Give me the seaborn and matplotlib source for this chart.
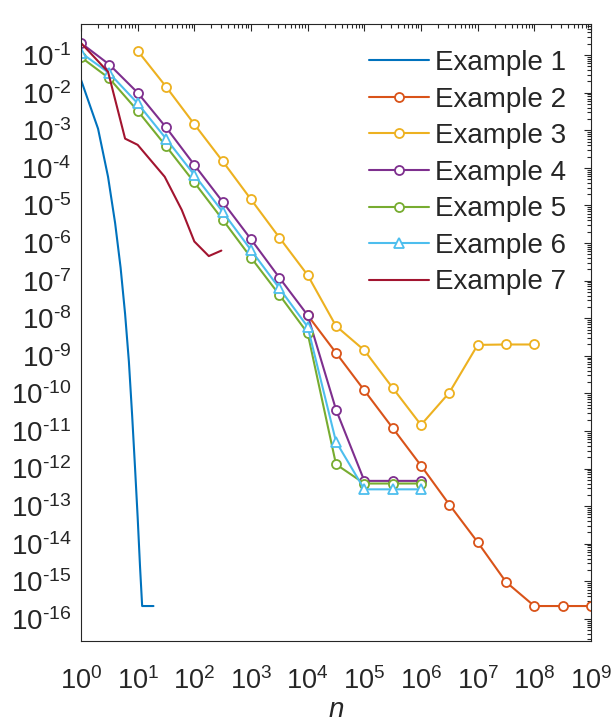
import numpy as np
import pandas as pd
import matplotlib
matplotlib.use("Agg")
import matplotlib.pyplot as plt
import matplotlib.ticker as mticker
import seaborn as sns

# ---------------- data ----------------
half_dec = [10 ** (k / 2) for k in range(0, 19)]  # 1, 3.16, 10, ... 1e9

ex1_x = list(range(1, 20))
ex1_y = [2.2e-2, 1.1e-3, 5.8e-5, 3.4e-6, 2.2e-7, 1.3e-8, 7.0e-10, 2.5e-11,
         1.0e-12, 5.0e-14, 2.5e-15, 2.2e-16, 2.2e-16, 2.2e-16, 2.2e-16,
         2.2e-16, 2.2e-16, 2.2e-16, 2.2e-16]

ex2_x = half_dec[8:19]
ex2_y = [1.2e-8, 1.2e-9, 1.2e-10, 1.2e-11, 1.2e-12, 1.1e-13, 1.1e-14,
         9.6e-16, 2.2e-16, 2.2e-16, 2.2e-16]

ex3_x = half_dec[2:17]
ex3_y = [0.13, 1.45e-2, 1.45e-3, 1.5e-4, 1.45e-5, 1.4e-6, 1.4e-7, 6.2e-9,
         1.4e-9, 1.4e-10, 1.45e-11, 1.05e-10, 1.95e-9, 2.0e-9, 2.0e-9]

ex4_x = half_dec[0:13]
ex4_y = [0.21, 5.6e-2, 1.0e-2, 1.2e-3, 1.2e-4, 1.25e-5, 1.26e-6, 1.2e-7,
         1.2e-8, 3.7e-11, 4.7e-13, 4.7e-13, 4.7e-13]

ex5_x = half_dec[0:13]
ex5_y = [8.8e-2, 2.4e-2, 3.3e-3, 3.8e-4, 4.1e-5, 4.2e-6, 4.1e-7, 4.2e-8,
         4.0e-9, 1.3e-12, 4.0e-13, 4.0e-13, 4.0e-13]

ex6_x = half_dec[0:13]
ex6_y = [0.115, 3.3e-2, 5.2e-3, 6.0e-4, 6.5e-5, 6.8e-6, 6.5e-7, 6.3e-8,
         5.9e-9, 5.2e-12, 2.8e-13, 2.8e-13, 2.8e-13]

ex7_x = [1, 3, 6, 10, 30, 60, 100, 180, 300]
ex7_y = [0.21, 3.6e-2, 6.0e-4, 4.1e-4, 5.8e-5, 7.6e-6, 1.1e-6, 4.5e-7, 6.3e-7]

labels = ["Example 1", "Example 2", "Example 3", "Example 4",
          "Example 5", "Example 6", "Example 7"]
colors = ["#0072BD", "#D95319", "#EDB120", "#7E2F8E", "#77AC30",
          "#4DBEEE", "#A2142F"]
markers = [None, "o", "o", "o", "o", "^", None]

x_exps = list(range(0, 10))
y_exps = list(range(-16, 0))

series = [(ex1_x, ex1_y), (ex2_x, ex2_y), (ex3_x, ex3_y), (ex4_x, ex4_y),
          (ex5_x, ex5_y), (ex6_x, ex6_y), (ex7_x, ex7_y)]

# ---------------- style ----------------
sns.set_style("white")
plt.rcParams["font.family"] = ["Liberation Sans", "DejaVu Sans"]
plt.rcParams["mathtext.fontset"] = "custom"
plt.rcParams["mathtext.rm"] = "Liberation Sans"
plt.rcParams["mathtext.it"] = "Liberation Sans:italic"
plt.rcParams["mathtext.default"] = "regular"

fig = plt.figure(figsize=(6.14, 7.25), dpi=100)
ax = fig.add_axes([81 / 614, 1 - 640.7 / 725, (591 - 81) / 614, (640.7 - 24.3) / 725])

for (xs, ys), lab, col, mk in zip(series, labels, colors, markers):
    df = pd.DataFrame({"n": xs, "err": ys})
    kw = dict(color=col, linewidth=1.5, label=lab)
    if mk is not None:
        kw.update(marker=mk, markersize=6.5 if mk == "o" else 7,
                  markerfacecolor="white", markeredgecolor=col,
                  markeredgewidth=1.3)
    sns.lineplot(data=df, x="n", y="err", ax=ax, estimator=None,
                 errorbar=None, sort=False, **kw)

ax.set_xscale("log")
ax.set_yscale("log")
ax.set_xlim(1, 1e9)
ax.set_ylim(10 ** -16.58, 10 ** -0.18)

ax.xaxis.set_major_locator(mticker.FixedLocator([10.0 ** k for k in x_exps]))
ax.yaxis.set_major_locator(mticker.FixedLocator([10.0 ** k for k in y_exps]))
ax.xaxis.set_minor_locator(mticker.LogLocator(base=10, subs=np.arange(2, 10), numticks=100))
ax.yaxis.set_minor_locator(mticker.LogLocator(base=10, subs=np.arange(2, 10), numticks=100))
ax.set_xticklabels([f"$10^{{{k}}}$" for k in x_exps])
ax.set_yticklabels([f"$10^{{\\text{{-}}{abs(k)}}}$" for k in y_exps])

tick_col = "#262626"
ax.tick_params(which="both", direction="in", top=True, right=True,
               colors=tick_col, width=0.8)
ax.tick_params(which="major", length=5)
ax.tick_params(which="minor", length=3)
ax.tick_params(axis="x", which="major", labelsize=19.5, pad=19)
ax.tick_params(axis="y", which="major", labelsize=20, pad=7)
for sp in ax.spines.values():
    sp.set_color(tick_col)
    sp.set_linewidth(0.8)

ax.set_xlabel("$\\it{n}$", fontsize=20, color=tick_col, labelpad=1.5)
ax.set_ylabel("")

handles, labs = ax.get_legend_handles_labels()
leg = ax.legend(handles, labs, loc="upper left",
                bbox_to_anchor=(369 / 614, 1 - 50 / 725),
                bbox_transform=fig.transFigure, frameon=False,
                fontsize=20, handlelength=2.15, handletextpad=0.22,
                labelspacing=0.38, borderpad=0, borderaxespad=0)

fig.savefig("out.png", dpi=100, facecolor="white")
